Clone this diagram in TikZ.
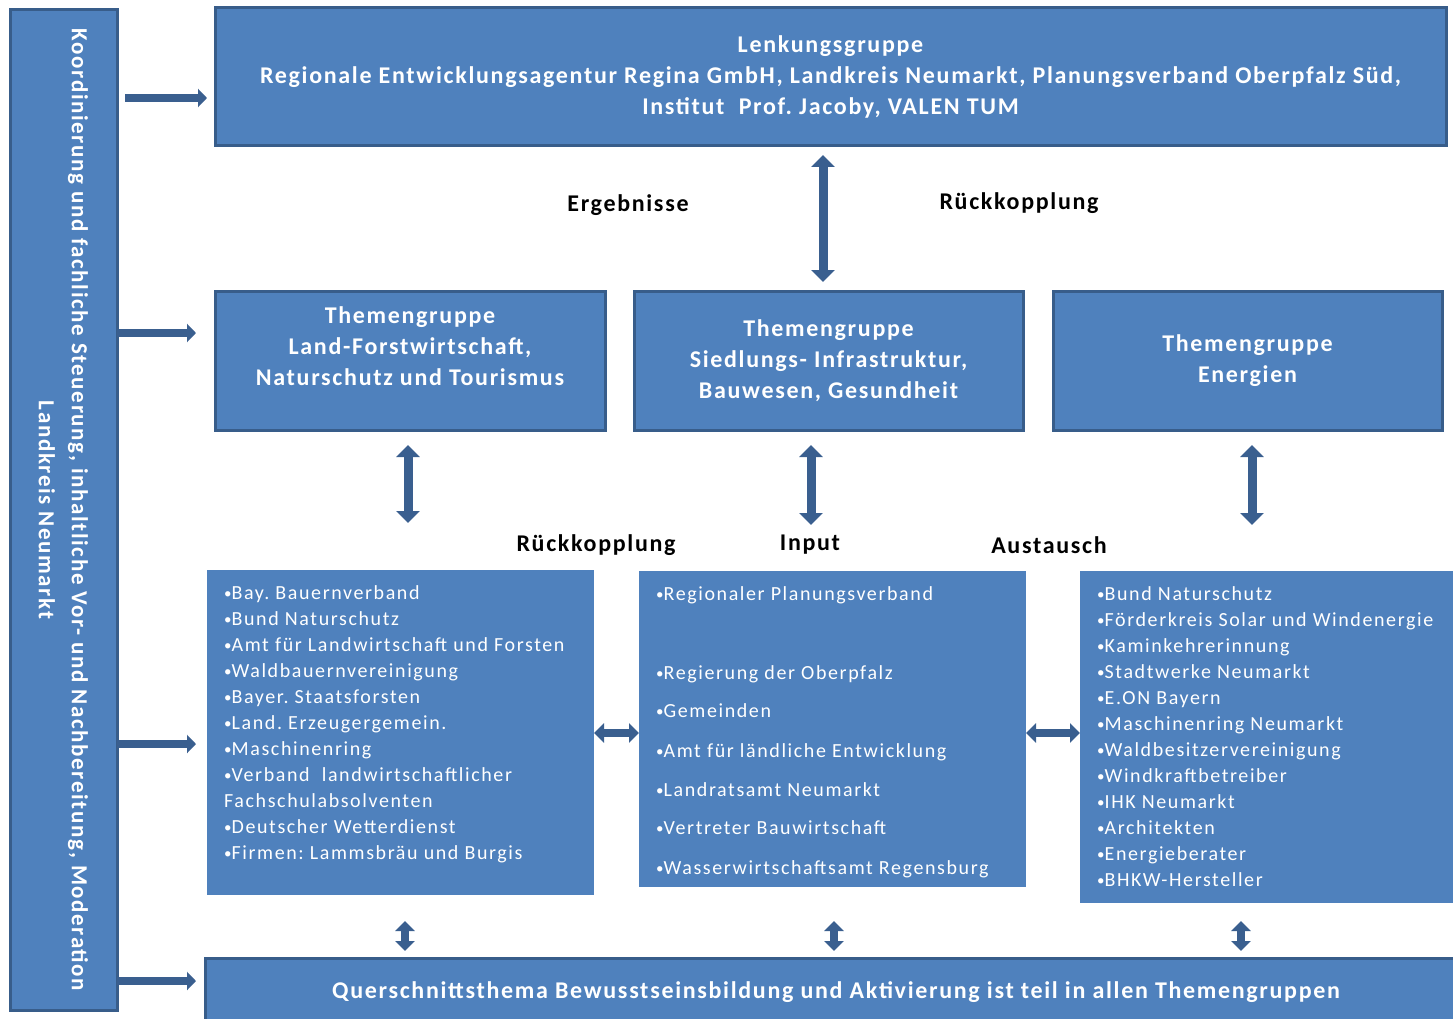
\documentclass[tikz,border=0pt]{standalone}
\usepackage{fontspec}
\setmainfont{Carlito}[LetterSpace=8, BoldFeatures={LetterSpace=7}]
\usetikzlibrary{positioning, arrows.meta}

\definecolor{boxfill}{HTML}{4F81BD}
\definecolor{boxline}{HTML}{385D8A}
\definecolor{pfeilblau}{HTML}{3A5F8F}

% kleiner Aufzaehlungspunkt
\newcommand{\pkt}{{\fontsize{15}{15}\selectfont\raisebox{1.5pt}{•}}}

\begin{document}
\frenchspacing
\begin{tikzpicture}[
    x=1pt, y=-1pt,
    group/.style={
        rectangle, draw=boxline, line width=3pt, fill=boxfill,
        text=white, font=\bfseries\fontsize{24}{31}\selectfont,
        align=center, inner sep=0pt, outer sep=0pt
    },
    liste/.style={rectangle, fill=boxfill, inner sep=0pt, outer sep=0pt},
    listtext/.style={
        anchor=north west, text=white, align=left, inner sep=0pt,
        font=\fontsize{20}{26}\selectfont
    },
    beschriftung/.style={font=\bfseries\fontsize{24}{29}\selectfont},
    pfeil/.style={-{Triangle[width=18pt,length=9pt]}, line width=8pt, pfeilblau},
    doppelpfeil/.style={{Triangle[width=23pt,length=12pt]}-{Triangle[width=23pt,length=12pt]}, line width=9pt, pfeilblau},
    kleinpfeil/.style={{Triangle[width=19pt,length=10pt]}-{Triangle[width=19pt,length=10pt]}, line width=8pt, pfeilblau}
]
\useasboundingbox (0,0) rectangle (1453,1019);
\clip (0,0) rectangle (1453,1019);

% Koordinierung (links)
\node[group, minimum width=107pt, minimum height=1000pt] (koord) at (63.5,510) {};
\node[rotate=-90, text=white, align=center, font=\bfseries\fontsize{23}{33}\selectfont] (koordtext) at (koord.center)
    {Koordinierung und fachliche Steuerung, inhaltliche Vor- und Nachbereitung, Moderation\\Landkreis Neumarkt};

% Lenkungsgruppe
\node[group, minimum width=1231pt, minimum height=138pt] (lenk) at (830.5,77) {
    Lenkungsgruppe\\
    Regionale Entwicklungsagentur Regina GmbH, Landkreis Neumarkt, Planungsverband Oberpfalz Süd,\\
    Institut\ \ Prof. Jacoby, VALEN TUM
};

% Themengruppen
\node[group, minimum width=390pt, minimum height=139pt] (tg1) at (410,360.5) {
    Themengruppe\\
    Land-Forstwirtschaft,\\
    Naturschutz und Tourismus\\[-3pt]\mbox{}
};
\node[group, minimum width=389pt, minimum height=139pt, right=29pt of tg1] (tg2) {
    Themengruppe\\
    Siedlungs- Infrastruktur,\\
    Bauwesen, Gesundheit
};
\node[group, minimum width=389pt, minimum height=139pt, right=30pt of tg2] (tg3) {
    Themengruppe\\
    Energien
};

% Mitglieder
\node[liste, minimum width=387pt, minimum height=325pt] (list1) at (400.5,732.5) {};
\node[listtext] (list1text) at ([xshift=17pt, yshift=-15.5pt]list1.north west) {
    \pkt Bay. Bauernverband\\
    \pkt Bund Naturschutz\\
    \pkt Amt für Landwirtschaft und Forsten\\
    \pkt Waldbauernvereinigung\\
    \pkt Bayer. Staatsforsten\\
    \pkt Land. Erzeugergemein.\\
    \pkt Maschinenring\\
    \pkt Verband\ \ landwirtschaftlicher\\
    Fachschulabsolventen\\
    \pkt Deutscher Wetterdienst\\
    \pkt Firmen: Lammsbräu und Burgis
};
\node[liste, minimum width=387pt, minimum height=316pt] (list2) at (832.5,729) {};
\node[listtext] (list2text) at ([xshift=17pt, yshift=-15.5pt]list2.north west) {
    \pkt Regionaler Planungsverband\\[53pt]
    \pkt Regierung der Oberpfalz\\[12pt]
    \pkt Gemeinden\\[14pt]
    \pkt Amt für ländliche Entwicklung\\[13pt]
    \pkt Landratsamt Neumarkt\\[12pt]
    \pkt Vertreter Bauwirtschaft\\[14pt]
    \pkt Wasserwirtschaftsamt Regensburg
};
\node[liste, minimum width=380pt, minimum height=332pt] (list3) at (1270,737) {};
\node[listtext] (list3text) at ([xshift=17pt, yshift=-15.5pt]list3.north west) {
    \pkt Bund Naturschutz\\
    \pkt Förderkreis Solar und Windenergie\\
    \pkt Kaminkehrerinnung\\
    \pkt Stadtwerke Neumarkt\\
    \pkt E.ON Bayern\\
    \pkt Maschinenring Neumarkt\\
    \pkt Waldbesitzervereinigung\\
    \pkt Windkraftbetreiber\\
    \pkt IHK Neumarkt\\
    \pkt Architekten\\
    \pkt Energieberater\\
    \pkt BHKW-Hersteller
};

% Querschnittsthema
\node[group, minimum width=1262pt, minimum height=68pt] (quer) at (836,992)
    {Querschnittsthema Bewusstseinsbildung und Aktivierung ist teil in allen Themengruppen};

% Beschriftungen
\node[beschriftung] (ergebnisse) at (628,205) {Ergebnisse};
\node[beschriftung] (rueck1) at (1019,203) {Rückkopplung};
\node[beschriftung] (rueck2) at (596,545) {Rückkopplung};
\node[beschriftung] (input) at (810,545) {Input};
\node[beschriftung] (austausch) at (1049,545) {Austausch};

% Pfeile von der Koordinierung
\draw[pfeil, shorten <=8pt, shorten >=8pt] (koord.east |- 0,98) -- (lenk.west |- 0,98);
\draw[pfeil, shorten >=19pt] (koord.east |- 0,333) -- (tg1.west |- 0,333);
\draw[pfeil, shorten >=11pt] (koord.east |- 0,744) -- (list1.west |- 0,744);
\draw[pfeil, shorten >=9pt] (koord.east |- 0,981) -- (quer.west |- 0,981);

% Lenkung <-> Themengruppen
\draw[doppelpfeil, shorten <=9pt, shorten >=9pt] ([xshift=-5.5pt]tg2.north) -- ([xshift=-5.5pt]tg2.north |- lenk.south);

% Themengruppen <-> Mitglieder
\draw[doppelpfeil, shorten <=15pt, shorten >=47pt] ([xshift=-2pt]tg1.south) -- ([xshift=-2pt]tg1.south |- list1.north);
\draw[doppelpfeil, shorten <=15pt, shorten >=46pt] ([xshift=-17.5pt]tg2.south) -- ([xshift=-17.5pt]tg2.south |- list2.north);
\draw[doppelpfeil, shorten <=15pt, shorten >=46pt] ([xshift=4.5pt]tg3.south) -- ([xshift=4.5pt]tg3.south |- list3.north);

% Mitglieder untereinander
\draw[kleinpfeil] (list1.east |- 0,733) -- (list2.west |- 0,733);
\draw[kleinpfeil] (list2.east |- 0,733) -- (list3.west |- 0,733);

% Mitglieder <-> Querschnittsthema
\draw[kleinpfeil, shorten <=26pt, shorten >=7pt] ([xshift=4.5pt]list1.south) -- ([xshift=4.5pt]list1.south |- quer.north);
\draw[kleinpfeil, shorten <=34pt, shorten >=7pt] ([xshift=1.5pt]list2.south) -- ([xshift=1.5pt]list2.south |- quer.north);
\draw[kleinpfeil, shorten <=18pt, shorten >=7pt] ([xshift=-29pt]list3.south) -- ([xshift=-29pt]list3.south |- quer.north);

\end{tikzpicture}
\end{document}
